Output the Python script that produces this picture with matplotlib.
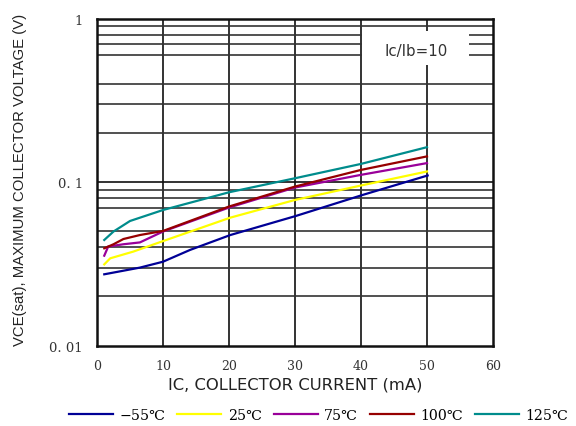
import matplotlib
matplotlib.use('Agg')
import matplotlib.pyplot as plt
from matplotlib.patches import Rectangle

# Collector current (mA) and VCE(sat) (V) read per temperature
ic_m55 = [1.1, 6.5, 10, 14.1, 20.2, 30.1, 40.2, 50.1]
v_m55 = [0.0273, 0.0300, 0.0326, 0.0385, 0.0475, 0.0621, 0.0835, 0.110]

ic_25 = [1.1, 2.0, 5.5, 10, 20.2, 30, 40, 50]
v_25 = [0.0314, 0.0342, 0.0376, 0.0436, 0.0607, 0.0779, 0.0955, 0.1164]

ic_75 = [1.1, 1.7, 4, 6.5, 10, 20, 30, 40, 50]
v_75 = [0.0355, 0.0404, 0.0417, 0.0428, 0.0499, 0.0700, 0.0928, 0.111, 0.131]

ic_100 = [1.1, 2.5, 4, 6.5, 10, 20, 30, 40, 50]
v_100 = [0.0394, 0.0417, 0.0449, 0.0475, 0.0503, 0.0710, 0.0941, 0.119, 0.144]

ic_125 = [1.1, 2.5, 5, 10, 20, 30, 40, 50]
v_125 = [0.0443, 0.0499, 0.0579, 0.0676, 0.0868, 0.1058, 0.1295, 0.164]

series = [
    (ic_m55, v_m55, '\u221255\u2103', '#000096'),
    (ic_25, v_25, '25\u2103', '#ffff00'),
    (ic_75, v_75, '75\u2103', '#990099'),
    (ic_100, v_100, '100\u2103', '#960000'),
    (ic_125, v_125, '125\u2103', '#008c8c'),
]

x_ticks = [0, 10, 20, 30, 40, 50, 60]
y_ticks = [0.01, 0.1, 1]
y_tick_labels = ['0. 01', '0. 1', '1']
h_grid = [0.02, 0.03, 0.04, 0.05, 0.07, 0.08, 0.09,
          0.2, 0.3, 0.4, 0.6, 0.7, 0.8, 0.9]

serif = ['DejaVu Serif', 'Noto Sans CJK JP', 'DejaVu Sans']

fig = plt.figure(figsize=(5.76, 4.27), dpi=100)
ax = fig.add_axes([0.1684, 0.1885, 0.6875, 0.7647])
ax.set_yscale('log')
ax.set_xlim(0, 60)
ax.set_ylim(0.01, 1)

# grid
for xv in x_ticks[1:-1]:
    ax.axvline(xv, color='#111111', lw=1.2, zorder=1)
for yv in h_grid:
    ax.axhline(yv, color='#333333', lw=1.2, zorder=1)
ax.axhline(0.1, color='#111111', lw=1.2, zorder=1)

# label box over the grid
ax.add_patch(Rectangle((40.15, 0.523), 16.25, 0.32, facecolor='white',
                       edgecolor='none', zorder=2))
ax.text(48.4, 0.64, 'Ic/Ib=10', ha='center', va='center', fontsize=10.8,
        family='DejaVu Sans', color='#333333', zorder=3)

for ic, v, lab, col in series:
    ax.plot(ic, v, color=col, lw=1.6, label=lab, zorder=4)

ax.set_xticks(x_ticks)
ax.set_xticklabels([str(t) for t in x_ticks], family=serif, fontsize=9,
                   color='#333333')
ax.set_yticks(y_ticks)
ax.set_yticklabels(y_tick_labels, family=serif, fontsize=9.5, color='#333333')
ax.minorticks_off()
ax.tick_params(axis='x', length=0, pad=10)
ax.tick_params(axis='y', length=0, pad=10)
for s in ax.spines.values():
    s.set_linewidth(1.8)
    s.set_color('#111111')

ax.set_xlabel('IC, COLLECTOR CURRENT (mA)', family='DejaVu Sans',
              fontsize=11.8, color='#222222')
ax.xaxis.set_label_coords(0.5, -0.095)
ax.set_ylabel('VCE(sat), MAXIMUM COLLECTOR VOLTAGE (V)', family='Liberation Sans',
              fontsize=10.7, color='#222222')
ax.yaxis.set_label_coords(-0.177, 0.51)

fig.legend(loc='lower center', bbox_to_anchor=(0.553, -0.02), ncol=5,
           frameon=False, handlelength=3.1, columnspacing=0.85,
           handletextpad=0.45, prop={'family': serif, 'size': 10.2})

fig.savefig('out.png', dpi=100)
